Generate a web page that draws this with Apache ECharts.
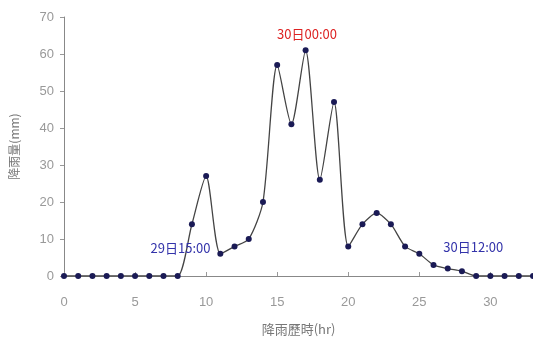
<!DOCTYPE html>
<html><head><meta charset="utf-8">
<script src="https://cdn.jsdelivr.net/npm/echarts@6/dist/echarts.min.js"></script>
<style>html,body{margin:0;padding:0;background:#fff}#c{width:533px;height:340px}</style>
</head><body><div id="c"></div>
<script>
var hours = [0,1,2,3,4,5,6,7,8,9,10,11,12,13,14,15,16,17,18,19,20,21,22,23,24,25,26,27,28,29,30,31,32,33];
var rain  = [0,0,0,0,0,0,0,0,0,14,27,6,8,10,20,57,41,61,26,47,8,14,17,14,8,6,3,2,1.3,0,0,0,0,0];
var xTicks = [0,5,10,15,20,25,30];
var yTicks = [0,10,20,30,40,50,60,70];
var notes = [
  {text:'29日15:00', x:8.2, y:7.6, color:'#3333aa'},
  {text:'30日00:00', x:17.1, y:65.3, color:'#dd2222'},
  {text:'30日12:00', x:28.8, y:7.8, color:'#3333aa'}
];
var chart = echarts.init(document.getElementById('c'));
var data = hours.map(function(h,i){return [h, rain[i]];});
chart.setOption({
  animation:false,
  grid:{left:64,right:0,top:17,bottom:64,containLabel:false,outerBoundsMode:'none'},
  xAxis:{type:'value',min:0,max:33,interval:5,
    name:'降雨歷時(hr)',nameLocation:'middle',nameGap:47,
    nameTextStyle:{color:'#777',fontSize:13,fontFamily:'Noto Sans CJK TC'},
    axisLine:{lineStyle:{color:'#888'}},axisTick:{inside:true,length:4,lineStyle:{color:'#999'}},
    axisLabel:{color:'#999',fontSize:13,margin:20,fontFamily:'Liberation Sans',
      formatter:function(v){return xTicks.indexOf(v)>=0?String(v):'';}},
    splitLine:{show:false}},
  yAxis:{type:'value',min:0,max:70,interval:10,
    name:'降雨量(mm)',nameLocation:'middle',nameGap:44,
    nameTextStyle:{color:'#777',fontSize:12,fontFamily:'Noto Sans CJK TC'},
    axisLine:{show:true,lineStyle:{color:'#888'}},axisTick:{show:true,length:4,lineStyle:{color:'#999'}},
    axisLabel:{color:'#999',fontSize:13,margin:10,fontFamily:'Liberation Sans',
      formatter:function(v){return yTicks.indexOf(v)>=0?String(v):'';}},
    splitLine:{show:false}},
  series:[{type:'line',data:data,smooth:0.25,
    lineStyle:{color:'#444',width:1.3},
    symbol:'circle',symbolSize:6,itemStyle:{color:'#1a1a55'},
    markPoint:{symbol:'circle',symbolSize:0,
      data:notes.map(function(n){return {coord:[n.x,n.y],
        label:{show:true,position:'inside',formatter:n.text,color:n.color,fontSize:13,fontFamily:'Noto Sans CJK TC'}};})}
  }]
});
</script></body></html>
